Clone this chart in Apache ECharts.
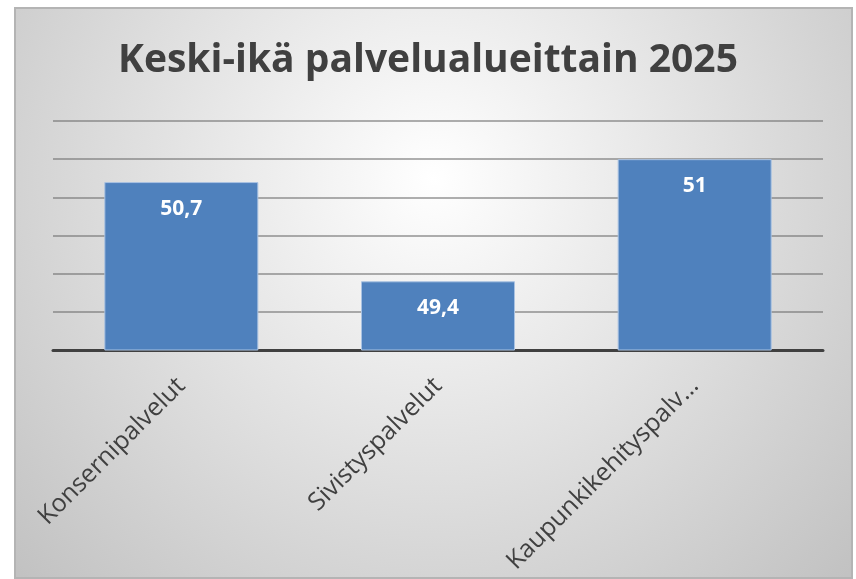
<!DOCTYPE html>
<html>
<head>
<meta charset="utf-8">
<script src="https://cdn.jsdelivr.net/npm/echarts@6/dist/echarts.min.js"></script>
<style>
  html, body { margin: 0; padding: 0; background: #fff; }
  #chart { width: 856px; height: 579px; }
</style>
</head>
<body>
<div id="chart"></div>
<script>
// data
const categories = ['Konsernipalvelut', 'Sivistyspalvelut', 'Kaupunkikehityspalvelut'];
const averageAge = [50.7, 49.4, 51];

const chart = echarts.init(document.getElementById('chart'));

const fmt = v => String(v).replace('.', ',');

chart.setOption({
    animation: false,
    graphic: [{
        type: 'rect',
        z: -100,
        silent: true,
        shape: { x: 15, y: 8, width: 837, height: 570 },
        style: {
            fill: new echarts.graphic.RadialGradient(0.5, 0.3, 1.0, [
                { offset: 0, color: '#ffffff' },
                { offset: 1, color: '#c2c2c2' }
            ]),
            stroke: '#b4b4b4',
            lineWidth: 2
        }
    }],
    title: {
        text: 'Keski-ikä palvelualueittain 2025',
        left: 'center',
        top: 36,
        textStyle: {
            fontFamily: 'Open Sans',
            fontWeight: 'bold',
            fontSize: 39,
            color: '#404040'
        }
    },
    grid: { left: 53, right: 33, top: 121, bottom: 229 },
    xAxis: {
        type: 'category',
        data: categories,
        axisLine: { lineStyle: { color: '#404040', width: 3 } },
        axisTick: { show: false },
        axisLabel: {
            rotate: 45,
            margin: 32,
            fontFamily: 'Open Sans',
            fontSize: 25,
            color: '#404040',
            width: 268,
            overflow: 'truncate',
            ellipsis: '…'
        }
    },
    yAxis: {
        type: 'value',
        min: 48.5,
        max: 51.5,
        interval: 0.5,
        axisLabel: { show: false },
        axisLine: { show: false },
        axisTick: { show: false },
        splitLine: { lineStyle: { color: 'rgba(110,110,110,0.55)', width: 2 } }
    },
    series: [{
        type: 'bar',
        data: averageAge,
        barWidth: '60%',
        itemStyle: { color: '#4f81bd', borderColor: '#a9c2e2', borderWidth: 1 },
        label: {
            show: true,
            position: 'insideTop',
            distance: 16,
            formatter: p => fmt(p.value),
            fontFamily: 'Open Sans',
            fontWeight: 'bold',
            fontSize: 21,
            color: '#ffffff'
        }
    }]
});
</script>
</body>
</html>
